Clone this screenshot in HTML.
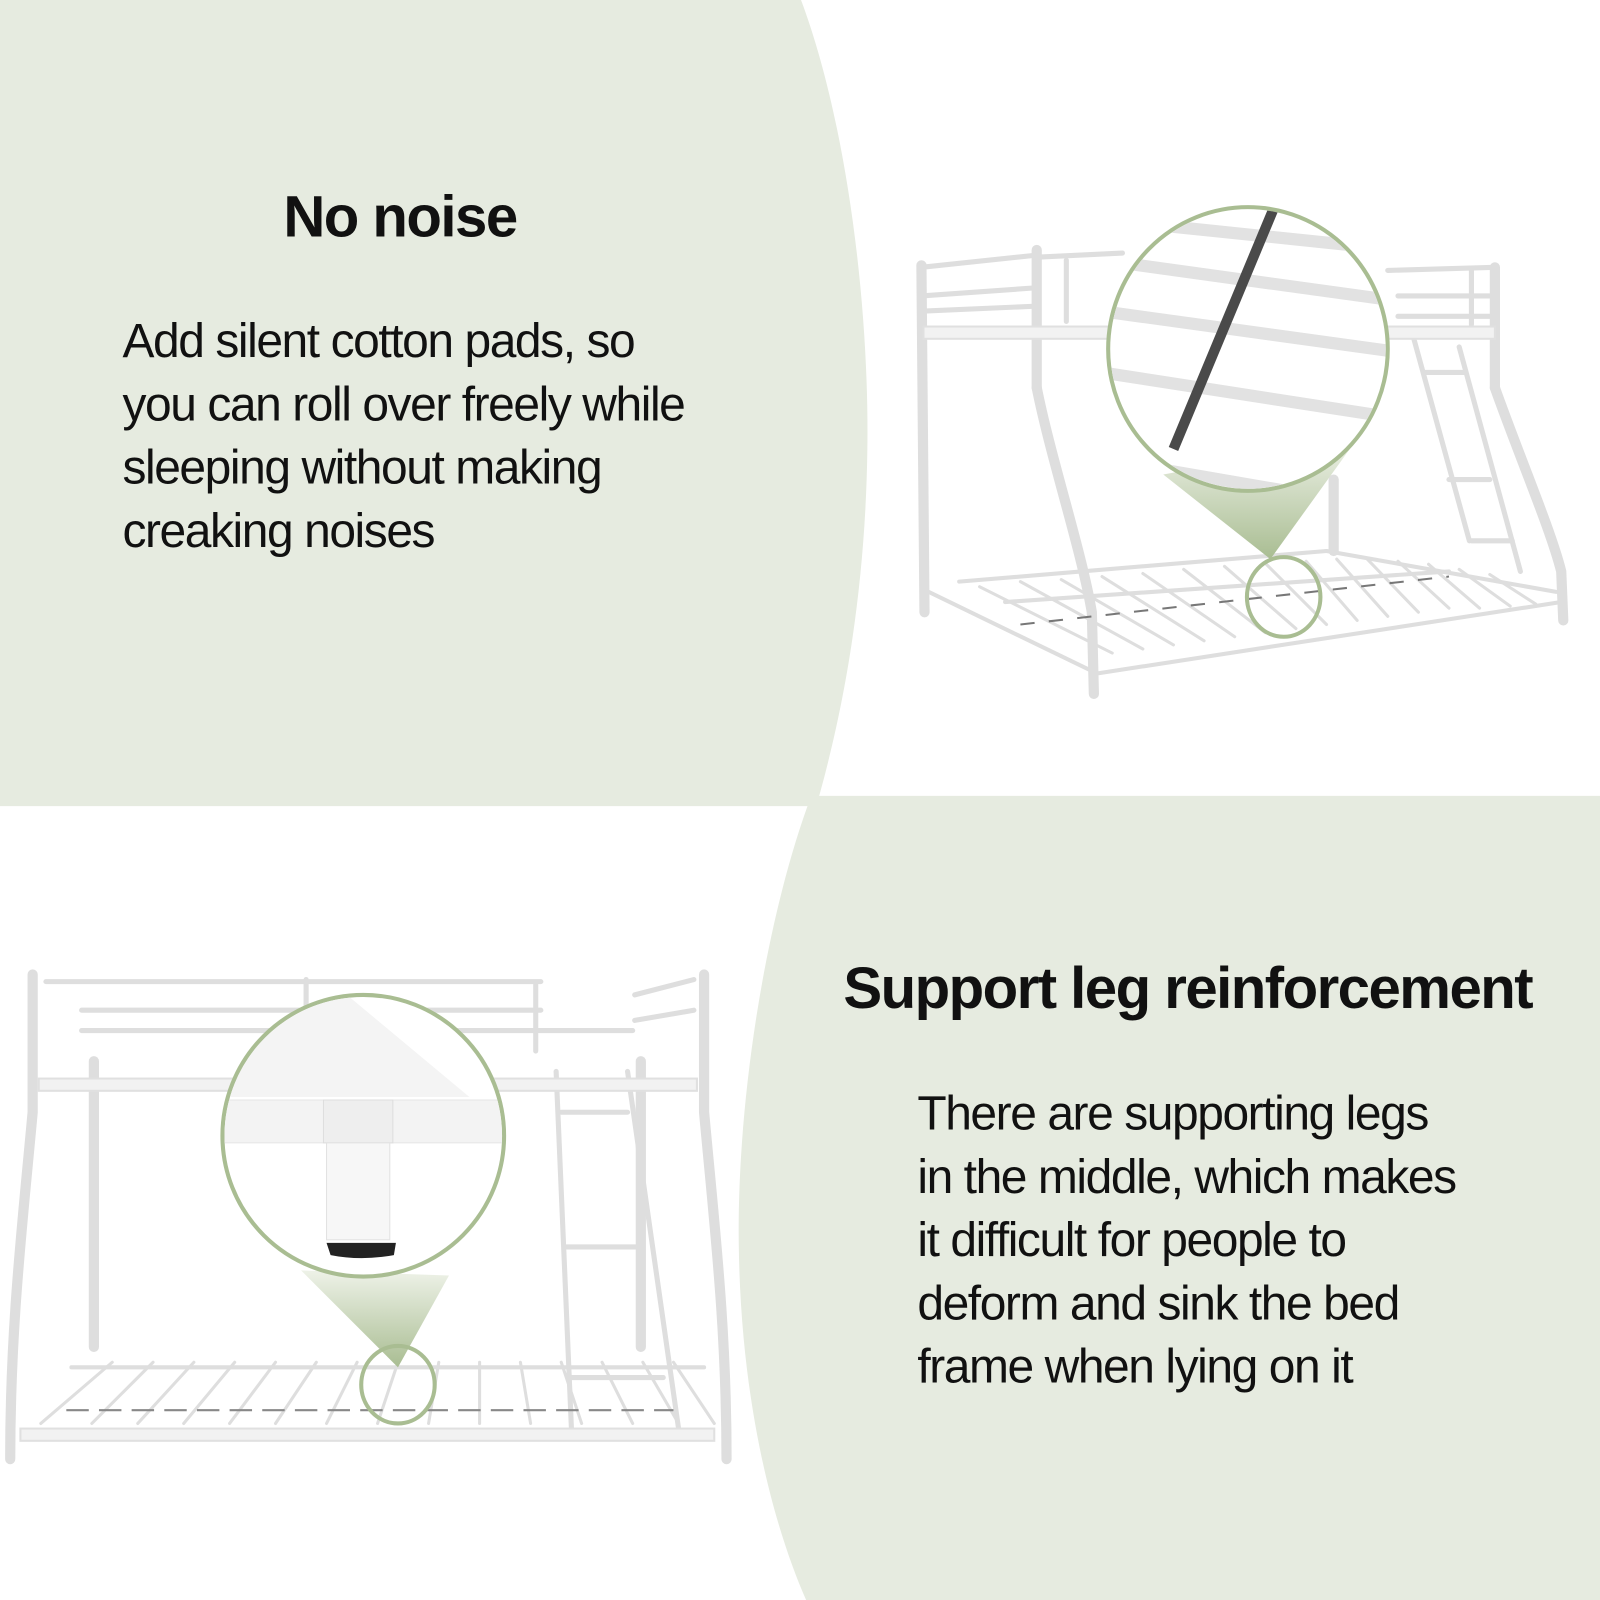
<!DOCTYPE html>
<html><head><meta charset="utf-8"><style>
html,body{margin:0;padding:0;background:#fff;width:1600px;height:1600px;overflow:hidden}
svg{display:block}
text{font-family:"Liberation Sans",sans-serif;fill:#111}
</style></head><body>
<svg width="1600" height="1600" viewBox="0 0 1568 1568" xmlns="http://www.w3.org/2000/svg">
<defs>
<linearGradient id="tri" x1="0" y1="0" x2="0" y2="1"><stop offset="0" stop-color="#eef2e8"/><stop offset="1" stop-color="#a9bd92"/></linearGradient>
</defs>
<rect width="1568" height="1568" fill="#fff"/>
<path d="M0 0 H785 C830 120 852 300 850 440 C848 600 820 720 800 790 H0 Z" fill="#e6ebe0"/>
<path d="M1568 780 H795 C750 900 722 1080 724 1220 C726 1380 760 1500 790 1568 H1568 Z" fill="#e6ebe0"/>

<text x="392" y="232" font-size="57" font-weight="bold" text-anchor="middle" letter-spacing="-1.5">No noise</text>
<g font-size="47" letter-spacing="-1.4">
<text x="120" y="350">Add silent cotton pads, so</text>
<text x="120" y="412">you can roll over freely while</text>
<text x="120" y="474">sleeping without making</text>
<text x="120" y="536">creaking noises</text>
</g>
<text x="1164" y="988" font-size="57" font-weight="bold" text-anchor="middle" letter-spacing="-1.5">Support leg reinforcement</text>
<g font-size="47" letter-spacing="-1.4">
<text x="899" y="1107">There are supporting legs</text>
<text x="899" y="1169">in the middle, which makes</text>
<text x="899" y="1231">it difficult for people to</text>
<text x="899" y="1293">deform and sink the bed</text>
<text x="899" y="1355">frame when lying on it</text>
</g>

<g stroke="#dedede" fill="none" stroke-linecap="round">
 <g stroke-width="10">
  <line x1="903" y1="260" x2="906" y2="600"/>
  <line x1="1016" y1="245" x2="1016" y2="380"/>
  <path d="M1016 380 C1030 450 1060 540 1070 600 L1072 680"/>
  <line x1="1465" y1="262" x2="1465" y2="380"/>
  <path d="M1465 380 C1490 450 1520 520 1530 560 L1532 608"/>
  <line x1="1307" y1="470" x2="1307" y2="540"/>
 </g>
 <g stroke-width="5">
  <line x1="903" y1="262" x2="1016" y2="250"/>
  <line x1="903" y1="290" x2="1016" y2="282"/>
  <line x1="903" y1="305" x2="1016" y2="300"/>
  <line x1="1016" y1="252" x2="1100" y2="248"/>
  <line x1="1360" y1="265" x2="1465" y2="262"/>
  <line x1="1370" y1="290" x2="1465" y2="290"/>
  <line x1="1370" y1="310" x2="1465" y2="310"/>
  <line x1="1045" y1="255" x2="1045" y2="315"/>
  <line x1="1442" y1="265" x2="1442" y2="318"/>
  <line x1="1385" y1="330" x2="1440" y2="530"/>
  <line x1="1430" y1="340" x2="1490" y2="560"/>
  <line x1="1395" y1="365" x2="1435" y2="365"/>
  <line x1="1420" y1="470" x2="1460" y2="470"/>
  <line x1="1442" y1="530" x2="1482" y2="530"/>
 </g>
 <rect x="905" y="320" width="560" height="12" fill="#f2f2f2" stroke="#e0e0e0" stroke-width="2"/>
 <g stroke-width="4">
  <line x1="910" y1="580" x2="1075" y2="660"/>
  <line x1="1075" y1="660" x2="1530" y2="590"/>
  <line x1="940" y1="570" x2="1300" y2="540"/>
  <line x1="1300" y1="540" x2="1525" y2="580"/>
  <line x1="985" y1="590" x2="1420" y2="560"/>
 </g>
 <g stroke-width="3">
  <path d="M960 575 L1090 640 M1000 570 L1120 636 M1040 568 L1150 632 M1080 565 L1180 628 M1120 562 L1210 624 M1160 558 L1240 620 M1200 555 L1270 616 M1240 552 L1300 612 M1280 550 L1330 608 M1310 548 L1360 604 M1340 548 L1390 600 M1370 550 L1420 596 M1400 553 L1450 596 M1430 558 L1480 594 M1460 563 L1505 592"/>
 </g>
</g>
<path d="M1000 612 L1420 565" stroke="#777" stroke-width="2" stroke-dasharray="14 14"/>
<path d="M1140 465 L1245 548 L1330 430 Z" fill="url(#tri)"/>
<ellipse cx="1223" cy="342" rx="137" ry="139" fill="#fff" stroke="#a9bd92" stroke-width="4"/>
<clipPath id="c1"><ellipse cx="1223" cy="342" rx="135" ry="137"/></clipPath>
<g clip-path="url(#c1)">
 <g stroke="#e2e2e2" stroke-width="12">
  <line x1="1080" y1="215" x2="1370" y2="245"/>
  <line x1="1080" y1="255" x2="1370" y2="295"/>
  <line x1="1080" y1="305" x2="1370" y2="345"/>
  <line x1="1080" y1="365" x2="1370" y2="410"/>
  <line x1="1080" y1="450" x2="1370" y2="500"/>
 </g>
 <line x1="1250" y1="200" x2="1150" y2="440" stroke="#4a4a4a" stroke-width="10"/>
</g>
<ellipse cx="1258" cy="585" rx="36" ry="39" fill="none" stroke="#a9bd92" stroke-width="4"/>

<g stroke="#dedede" fill="none" stroke-linecap="round">
 <g stroke-width="10">
  <path d="M32 955 L32 1090 C22 1200 10 1300 10 1430"/>
  <path d="M690 955 L690 1090 C700 1200 712 1300 712 1430"/>
  <line x1="92" y1="1040" x2="92" y2="1320"/>
  <line x1="628" y1="1040" x2="628" y2="1320"/>
 </g>
 <g stroke-width="5">
  <line x1="45" y1="962" x2="530" y2="962"/>
  <line x1="80" y1="990" x2="530" y2="990"/>
  <line x1="80" y1="1010" x2="620" y2="1010"/>
  <line x1="300" y1="960" x2="300" y2="1030"/>
  <line x1="525" y1="965" x2="525" y2="1030"/>
  <line x1="622" y1="975" x2="680" y2="960"/>
  <line x1="622" y1="1000" x2="680" y2="990"/>
  <line x1="545" y1="1050" x2="560" y2="1400"/>
  <line x1="615" y1="1050" x2="665" y2="1400"/>
  <line x1="550" y1="1090" x2="615" y2="1090"/>
  <line x1="555" y1="1222" x2="630" y2="1222"/>
  <line x1="558" y1="1350" x2="650" y2="1350"/>
 </g>
 <rect x="38" y="1057" width="645" height="12" fill="#f2f2f2" stroke="#e0e0e0" stroke-width="2"/>
 <rect x="20" y="1400" width="680" height="12" fill="#f2f2f2" stroke="#e0e0e0" stroke-width="2"/>
 <line x1="70" y1="1340" x2="690" y2="1340" stroke-width="4"/>
 <g stroke-width="3">
  <path d="M110 1335 L40 1395 M150 1335 L90 1395 M190 1335 L135 1395 M230 1335 L180 1395 M270 1335 L225 1395 M310 1335 L270 1395 M350 1335 L320 1395 M390 1335 L370 1395 M430 1335 L420 1395 M470 1335 L470 1395 M510 1335 L520 1395 M550 1335 L570 1395 M590 1335 L620 1395 M630 1335 L665 1395 M660 1335 L700 1395"/>
 </g>
</g>
<path d="M65 1382 L660 1382" stroke="#888" stroke-width="2" stroke-dasharray="22 10"/>
<path d="M295 1245 L390 1340 L440 1250 Z" fill="url(#tri)"/>
<ellipse cx="356" cy="1113" rx="138" ry="138" fill="#fff" stroke="#a9bd92" stroke-width="4"/>
<clipPath id="c2"><ellipse cx="356" cy="1113" rx="136" ry="136"/></clipPath>
<g clip-path="url(#c2)">
 <path d="M220 975 L340 975 L460 1075 L220 1075 Z" fill="#f4f4f4"/>
 <rect x="215" y="1078" width="290" height="42" fill="#f3f3f3" stroke="#e6e6e6"/>
 <rect x="317" y="1078" width="68" height="42" fill="#eeeeee" stroke="#dddddd"/>
 <rect x="320" y="1120" width="62" height="95" fill="#f7f7f7" stroke="#e2e2e2"/>
 <path d="M320 1218 L388 1218 L386 1230 Q354 1236 324 1230 Z" fill="#222"/>
</g>
<ellipse cx="390" cy="1357" rx="36" ry="38" fill="none" stroke="#a9bd92" stroke-width="4"/>
</svg>
</body></html>
